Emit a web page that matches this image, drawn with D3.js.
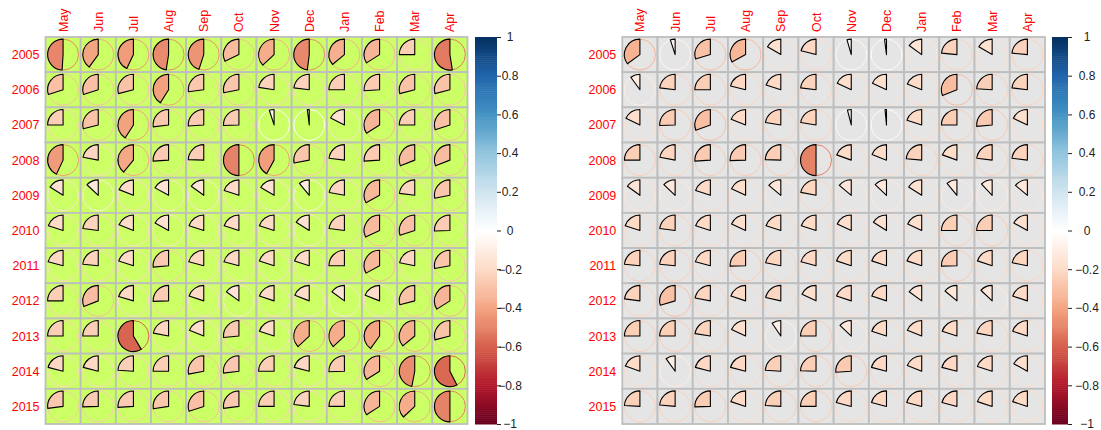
<!DOCTYPE html>
<html><head><meta charset="utf-8">
<script src="https://cdn.jsdelivr.net/npm/d3@7"></script>
<style>body{margin:0;background:#fff}svg{display:block}</style>
</head><body>
<svg id="c" width="1101" height="430"></svg>
<script>
const months = ["May","Jun","Jul","Aug","Sep","Oct","Nov","Dec","Jan","Feb","Mar","Apr"];
const years = ["2005","2006","2007","2008","2009","2010","2011","2012","2013","2014","2015"];
const colorbarTicks = [1,0.8,0.6,0.4,0.2,0,-0.2,-0.4,-0.6,-0.8,-1];
const paletteStops = ["#67001F","#B2182B","#D6604D","#F4A582","#FDDBC7","#FFFFFF","#D1E5F0","#92C5DE","#4393C3","#2166AC","#053061"];

const leftValues = [
 [-0.49,-0.40,-0.43,-0.475,-0.45,-0.32,-0.37,-0.48,-0.36,-0.34,-0.25,-0.525],
 [-0.30,-0.30,-0.29,-0.41,-0.27,-0.28,-0.225,-0.23,-0.25,-0.26,-0.29,-0.29],
 [-0.25,-0.29,-0.41,-0.27,-0.26,-0.255,-0.05,-0.02,-0.175,-0.34,-0.25,-0.30],
 [-0.43,-0.22,-0.39,-0.26,-0.245,-0.5,-0.42,-0.28,-0.23,-0.26,-0.31,-0.31],
 [-0.16,-0.13,-0.19,-0.17,-0.15,-0.2,-0.165,-0.11,-0.22,-0.33,-0.23,-0.28],
 [-0.2,-0.23,-0.19,-0.17,-0.2,-0.2,-0.2,-0.16,-0.23,-0.32,-0.30,-0.255],
 [-0.21,-0.235,-0.2,-0.265,-0.21,-0.21,-0.2,-0.2,-0.25,-0.33,-0.22,-0.28],
 [-0.25,-0.31,-0.205,-0.255,-0.2,-0.15,-0.2,-0.19,-0.15,-0.19,-0.29,-0.34],
 [-0.25,-0.25,-0.585,-0.22,-0.19,-0.265,-0.2,-0.37,-0.37,-0.4,-0.36,-0.29],
 [-0.21,-0.21,-0.24,-0.25,-0.28,-0.27,-0.25,-0.21,-0.255,-0.34,-0.47,-0.575],
 [-0.27,-0.255,-0.26,-0.275,-0.3,-0.27,-0.25,-0.23,-0.25,-0.34,-0.37,-0.5]
];
const rightValues = [
 [-0.35,-0.05,-0.295,-0.33,-0.165,-0.21,-0.045,-0.02,-0.15,-0.235,-0.165,-0.235],
 [-0.1,-0.23,-0.25,-0.21,-0.2,-0.23,-0.18,-0.18,-0.19,-0.31,-0.24,-0.23],
 [-0.18,-0.255,-0.305,-0.19,-0.225,-0.225,-0.04,-0.015,-0.2,-0.25,-0.265,-0.18],
 [-0.25,-0.22,-0.26,-0.255,-0.245,-0.5,-0.195,-0.19,-0.235,-0.195,-0.23,-0.23],
 [-0.15,-0.13,-0.2,-0.18,-0.14,-0.22,-0.14,-0.13,-0.16,-0.11,-0.12,-0.14],
 [-0.2,-0.23,-0.2,-0.18,-0.2,-0.2,-0.18,-0.16,-0.18,-0.25,-0.25,-0.17],
 [-0.235,-0.235,-0.21,-0.255,-0.22,-0.21,-0.2,-0.2,-0.2,-0.255,-0.2,-0.22],
 [-0.23,-0.295,-0.22,-0.2,-0.215,-0.18,-0.2,-0.2,-0.15,-0.14,-0.13,-0.2],
 [-0.25,-0.25,-0.225,-0.18,-0.095,-0.25,-0.13,-0.2,-0.19,-0.2,-0.22,-0.2],
 [-0.195,-0.1,-0.21,-0.21,-0.24,-0.245,-0.26,-0.21,-0.19,-0.21,-0.2,-0.17],
 [-0.24,-0.235,-0.255,-0.2,-0.24,-0.25,-0.21,-0.21,-0.21,-0.21,-0.2,-0.2]
];

const svg = d3.select("#c");
const color = d3.scaleLinear()
  .domain(d3.range(paletteStops.length).map(i => -1 + 2*i/(paletteStops.length-1)))
  .range(paletteStops).interpolate(d3.interpolateRgb);

function panel(values, x0, x1, bg, cb) {
  const y0 = 37, y1 = 424;
  const x = d3.scaleBand().domain(months).range([x0, x1]);
  const y = d3.scaleBand().domain(years).range([y0, y1]);
  const g = svg.append("g");
  const cells = [];
  values.forEach((row, i) => row.forEach((v, j) => cells.push({yr: years[i], m: months[j], v})));
  g.selectAll("rect.bg").data(cells).join("rect")
    .attr("x", d => x(d.m)).attr("y", d => y(d.yr))
    .attr("width", x.bandwidth()).attr("height", y.bandwidth())
    .attr("fill", bg).attr("stroke", "#BEBEBE").attr("stroke-width", 1.8);
  const r = x.bandwidth() * 0.44;
  const cg = g.selectAll("g.cell").data(cells).join("g")
    .attr("transform", d => `translate(${x(d.m) + x.bandwidth()/2},${y(d.yr) + y.bandwidth()/2})`);
  cg.append("circle").attr("r", r).attr("fill", "none")
    .attr("stroke", d => color(d.v)).attr("stroke-width", 1);
  const arc = d3.arc().innerRadius(0).outerRadius(r).startAngle(0);
  cg.append("path").attr("d", d => arc({endAngle: d.v * 2 * Math.PI}))
    .attr("fill", d => color(d.v)).attr("stroke", "#000").attr("stroke-width", 1.1)
    .attr("stroke-linejoin", "round");
  g.selectAll("text.col").data(months).join("text")
    .attr("transform", d => `translate(${x(d) + x.bandwidth()/2 + 4.5},${y0 - 5}) rotate(-90)`)
    .attr("fill", "#FF0000").attr("font-family", "Liberation Sans, Arial, sans-serif")
    .attr("font-size", 12.5).text(d => d);
  g.selectAll("text.row").data(years).join("text")
    .attr("x", x0 - 6).attr("y", d => y(d) + y.bandwidth()/2 + 4.5)
    .attr("text-anchor", "end")
    .attr("fill", "#FF0000").attr("font-family", "Liberation Sans, Arial, sans-serif")
    .attr("font-size", 12.5).text(d => d);
  const cs = d3.scaleLinear().domain([-1, 1]).range([y1, y0]);
  const n = 200;
  const steps = d3.range(n).map(i => -1 + (i + 0.5) * 2 / n);
  const cbg = svg.append("g");
  cbg.selectAll("rect").data(steps).join("rect")
    .attr("x", cb.x0).attr("width", cb.x1 - cb.x0)
    .attr("y", d => cs(d + 1/n)).attr("height", (y1 - y0)/n + 0.5)
    .attr("fill", d => color(d));
  const ax = d3.axisRight(cs).tickValues(colorbarTicks).tickSize(4).tickPadding(0)
    .tickFormat(d => d3.format("")(d).replace("-", "\u2212"));
  const axg = svg.append("g").attr("transform", `translate(${cb.x1},0)`).call(ax);
  axg.select(".domain").remove();
  axg.selectAll(".tick line").attr("stroke", "#222");
  axg.selectAll(".tick text").attr("x", cb.lx - cb.x1).attr("text-anchor", "middle")
    .attr("fill", "#222").attr("font-family", "Liberation Sans, Arial, sans-serif").attr("font-size", 12);
}

panel(leftValues, 45.5, 467.5, "#CCFF66", {x0: 475, x1: 497, lx: 510});
panel(rightValues, 622.3, 1045, "#E5E5E5", {x0: 1052, x1: 1068, lx: 1087});
</script>
</body></html>
